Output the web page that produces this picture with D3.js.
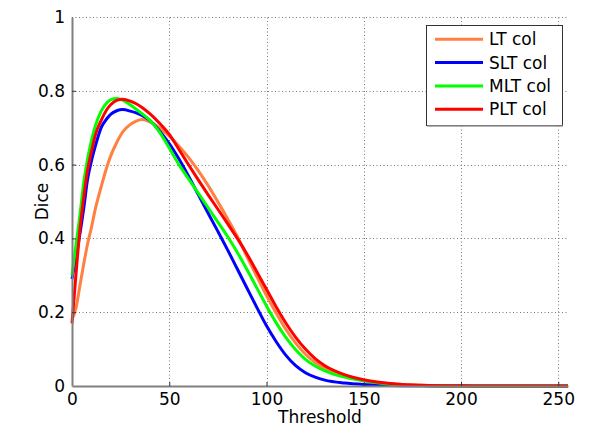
<!DOCTYPE html>
<html>
<head>
<meta charset="utf-8">
<script src="https://cdn.jsdelivr.net/npm/d3@7"></script>
<style>
  body { margin: 0; background: #fff; }
  svg { display: block; font-family: 'DejaVu Sans', sans-serif; }
</style>
</head>
<body>
<div id="chart"></div>
<script>
const thresholds = [0, 2, 4, 6, 8, 10, 12, 15, 18, 20, 23, 26, 30, 33, 36, 40, 45, 50, 55, 60, 65, 70, 75, 80, 85, 90, 95, 100, 105, 110, 115, 120, 125, 130, 140, 150, 160, 170, 180, 200, 220, 255]

const ltCol = [0.18, 0.21, 0.27, 0.33, 0.385, 0.43, 0.48, 0.54, 0.595, 0.625, 0.66, 0.688, 0.709, 0.718, 0.722, 0.716, 0.70, 0.677, 0.65, 0.619, 0.583, 0.543, 0.499, 0.453, 0.405, 0.35, 0.297, 0.245, 0.197, 0.153, 0.116, 0.086, 0.064, 0.048, 0.027, 0.015, 0.008, 0.004, 0.002, 0.0005, 0, 0]
const sltCol = [0.29, 0.35, 0.41, 0.48, 0.56, 0.61, 0.65, 0.70, 0.725, 0.737, 0.746, 0.749, 0.745, 0.74, 0.733, 0.72, 0.691, 0.657, 0.615, 0.568, 0.518, 0.468, 0.419, 0.369, 0.317, 0.265, 0.213, 0.163, 0.12, 0.083, 0.055, 0.036, 0.024, 0.016, 0.008, 0.004, 0.002, 0.001, 0.0005, 0, 0, 0]
const mltCol = [0.30, 0.38, 0.46, 0.55, 0.615, 0.665, 0.705, 0.745, 0.768, 0.776, 0.779, 0.775, 0.762, 0.75, 0.738, 0.72, 0.688, 0.645, 0.60, 0.561, 0.522, 0.483, 0.444, 0.405, 0.362, 0.315, 0.266, 0.217, 0.171, 0.131, 0.098, 0.072, 0.054, 0.041, 0.024, 0.014, 0.007, 0.003, 0.001, 0, 0, 0]
const pltCol = [0.17, 0.30, 0.42, 0.51, 0.585, 0.635, 0.68, 0.72, 0.75, 0.763, 0.774, 0.777, 0.772, 0.765, 0.755, 0.738, 0.712, 0.682, 0.641, 0.599, 0.558, 0.518, 0.479, 0.44, 0.40, 0.357, 0.31, 0.262, 0.214, 0.17, 0.132, 0.10, 0.074, 0.055, 0.031, 0.017, 0.009, 0.004, 0.002, 0.0005, 0, 0]

const seriesNames = ['LT col', 'SLT col', 'MLT col', 'PLT col']
const seriesColors = ['#ff8040', '#0000ff', '#00ff00', '#ff0000']
const seriesValues = [ltCol, sltCol, mltCol, pltCol]

const xTicks = [0, 50, 100, 150, 200, 250]
const yTicks = [0, 0.2, 0.4, 0.6, 0.8, 1]

const width = 604
const height = 436
const margin = { top: 17, right: 36, bottom: 50, left: 72 }

const x = d3.scaleLinear().domain([0, 255]).range([margin.left, width - margin.right])
const y = d3.scaleLinear().domain([0, 1]).range([height - margin.bottom, margin.top])

const svg = d3
  .select('#chart')
  .append('svg')
  .attr('width', width)
  .attr('height', height)

// dotted grid
const grid = svg.append('g').attr('stroke', '#777').attr('stroke-width', 1).attr('stroke-dasharray', '1,2.5')
grid
  .selectAll('line.gx')
  .data(xTicks.filter(d => d > 0))
  .join('line')
  .attr('x1', d => Math.round(x(d)) + 0.5)
  .attr('x2', d => Math.round(x(d)) + 0.5)
  .attr('y1', y(0))
  .attr('y2', y(1))
grid
  .selectAll('line.gy')
  .data(yTicks.filter(d => d > 0))
  .join('line')
  .attr('x1', x(0))
  .attr('x2', x(255))
  .attr('y1', d => Math.round(y(d)) + 0.5)
  .attr('y2', d => Math.round(y(d)) + 0.5)

// curves
const line = d3
  .line()
  .x(d => x(d[0]))
  .y(d => y(d[1]))
  .curve(d3.curveMonotoneX)

svg
  .append('g')
  .attr('fill', 'none')
  .attr('stroke-width', 3)
  .attr('stroke-linejoin', 'round')
  .selectAll('path')
  .data(seriesValues)
  .join('path')
  .attr('stroke', (d, i) => seriesColors[i])
  .attr('d', vals => line(thresholds.map((t, j) => [t, vals[j]])))

// axes
const xAxis = svg
  .append('g')
  .attr('transform', `translate(0,${y(0)})`)
  .call(d3.axisBottom(x).tickValues(xTicks).tickSizeInner(-4).tickSizeOuter(0).tickPadding(7))
const yAxis = svg
  .append('g')
  .attr('transform', `translate(${x(0)},0)`)
  .call(d3.axisLeft(y).tickValues(yTicks).tickFormat(d3.format('~g')).tickSizeInner(-4).tickSizeOuter(0).tickPadding(7))

for (const ax of [xAxis, yAxis]) {
  ax.select('.domain').attr('stroke', '#808080').attr('stroke-width', 2)
  ax.selectAll('.tick line').attr('stroke', '#333')
  ax.selectAll('.tick text').attr('font-size', 17).attr('fill', '#000').attr('font-family', 'DejaVu Sans, sans-serif')
}
yAxis.selectAll('.tick').filter(d => d === 0 || d === 1).select('line').remove()
xAxis.selectAll('.tick').filter(d => d === 0).select('line').remove()

svg
  .append('text')
  .attr('x', (x(0) + x(255)) / 2)
  .attr('y', height - 13)
  .attr('text-anchor', 'middle')
  .attr('font-size', 17)
  .text('Threshold')

svg
  .append('text')
  .attr('transform', `translate(${48},${(y(0) + y(1)) / 2}) rotate(-90)`)
  .attr('text-anchor', 'middle')
  .attr('font-size', 17)
  .text('Dice')

// legend
const legend = svg.append('g').attr('transform', 'translate(426,25)')
legend.append('rect').attr('x', 0.5).attr('y', 0.5).attr('width', 136).attr('height', 100).attr('fill', '#fff').attr('stroke', '#333')
legend.append('line').attr('x1', 1).attr('x2', 137).attr('y1', 101).attr('y2', 101).attr('stroke', '#999').attr('stroke-width', 1.5)

const item = legend
  .selectAll('g.item')
  .data(seriesNames)
  .join('g')
  .attr('transform', (d, i) => `translate(0,${14.3 + i * 23.3})`)
item
  .append('line')
  .attr('x1', 9)
  .attr('x2', 57)
  .attr('stroke', (d, i) => seriesColors[i])
  .attr('stroke-width', 3)
item
  .append('text')
  .attr('x', 63)
  .attr('dy', '0.35em')
  .attr('font-size', 17)
  .text(d => d)
</script>
</body>
</html>
